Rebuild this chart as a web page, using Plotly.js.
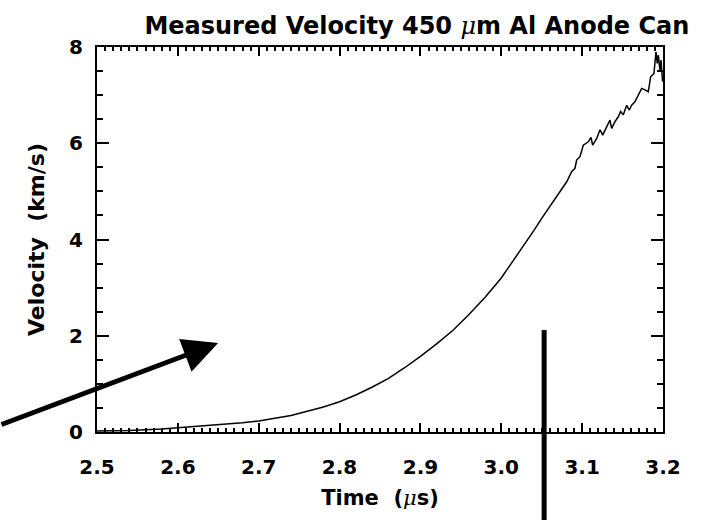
<!DOCTYPE html>
<html>
<head>
<meta charset="utf-8">
<script src="https://cdn.plot.ly/plotly-3.0.1.min.js"></script>
<style>
html,body{margin:0;padding:0;background:#fff;}
#chart{width:703px;height:520px;}
</style>
</head>
<body>
<div id="chart"></div>
<script>
// Time (microseconds)
const times = [2.50,2.54,2.58,2.62,2.66,2.68,2.70,2.72,2.74,2.76,
  2.78,2.80,2.82,2.84,2.86,2.88,2.90,2.92,2.94,2.96,
  2.98,3.00,3.02,3.04,3.05,3.06,3.07,3.075,3.0809,3.087,
  3.0911,3.0932,3.0973,3.1014,3.1076,3.1109,3.1130,3.1180,3.1221,3.1254,
  3.1303,3.1344,3.1365,3.1406,3.1447,3.1476,3.1509,3.1551,3.1583,3.1612,
  3.1653,3.1694,3.1736,3.1777,3.1818,3.1847,3.1888,3.1913,3.1929,3.1942,
  3.1962,3.1975,3.1995];
// Velocity (km/s)
const velocity = [0.02,0.03,0.06,0.11,0.155,0.19,0.23,0.28,0.345,0.43,
  0.52,0.63,0.77,0.93,1.11,1.33,1.57,1.83,2.11,2.44,
  2.80,3.20,3.68,4.18,4.44,4.69,4.94,5.05,5.20,5.41,
  5.48,5.65,5.72,5.96,6.03,6.12,5.96,6.10,6.28,6.17,
  6.34,6.48,6.31,6.45,6.55,6.66,6.59,6.79,6.69,6.79,
  6.86,7.00,7.14,7.11,7.07,7.38,7.45,7.90,7.66,7.83,
  7.52,7.73,7.28];
const xTickVals = [2.5,2.6,2.7,2.8,2.9,3.0,3.1,3.2];
const xTickText = ['2.5','2.6','2.7','2.8','2.9','3.0','3.1','3.2'];
const yTickVals = [0,2,4,6,8];
const yTickText = ['0','2','4','6','8'];
const markerTime = 3.053;

const F = 'DejaVu Sans, Arial, sans-serif';
const mu = '<span style="font-family:\'DejaVu Serif\',serif;font-weight:normal;font-style:italic">μ</span>';

const trace = {
  x: times, y: velocity, type: 'scatter', mode: 'lines',
  line: {color: '#000', width: 1.5}, hoverinfo: 'skip'
};

const axBase = {
  showgrid: false, zeroline: false, showline: true, linecolor: '#000', linewidth: 2,
  mirror: 'ticks', ticks: 'inside', tickcolor: '#000', tickwidth: 2,
  tickfont: {family: F, size: 20, color: '#000', weight: 'bold'}
};

const layout = {
  width: 703, height: 520,
  margin: {l: 97, r: 40, t: 47, b: 88},
  paper_bgcolor: '#fff', plot_bgcolor: '#fff',
  showlegend: false,
  title: {
    text: '<b>Measured Velocity 450 ' + mu + 'm Al Anode Can</b>',
    font: {family: F, size: 24, color: '#000'},
    xref: 'container', x: 0.593, xanchor: 'center',
    yref: 'container', y: 1 - 26/520, yanchor: 'middle'
  },
  xaxis: Object.assign({}, axBase, {
    range: [2.5, 3.2], tickmode: 'array', tickvals: xTickVals, ticktext: xTickText,
    ticklen: 9, ticklabelstandoff: 16,
    minor: {dtick: 0.01, ticks: 'inside', ticklen: 4, tickwidth: 2, tickcolor: '#000', showgrid: false},
    title: {text: '<b>Time\u00a0\u00a0(' + mu + 's)</b>', font: {family: F, size: 21, color: '#000'}, standoff: 12}
  }),
  yaxis: Object.assign({}, axBase, {
    range: [0, 8], tickmode: 'array', tickvals: yTickVals, ticktext: yTickText,
    ticklen: 12, ticklabelstandoff: 8,
    minor: {dtick: 0.5, ticks: 'inside', ticklen: 6, tickwidth: 2, tickcolor: '#000', showgrid: false},
    title: {text: '<b>Velocity\u00a0\u00a0(km/s)</b>', font: {family: F, size: 22, color: '#000'}, standoff: 18}
  }),
  shapes: [{
    type: 'line', xref: 'x', yref: 'paper',
    x0: markerTime, x1: markerTime, y0: -0.26, y1: 0.265,
    line: {color: '#000', width: 5}
  }],
  annotations: [{
    xref: 'paper', yref: 'paper', x: 0.214, y: 0.231,
    text: '', showarrow: true, arrowhead: 2, arrowsize: 1.4, arrowwidth: 5,
    arrowcolor: '#000', ax: -235, ay: 82
  }]
};

Plotly.newPlot('chart', [trace], layout, {displayModeBar: false, staticPlot: true});
</script>
</body>
</html>
